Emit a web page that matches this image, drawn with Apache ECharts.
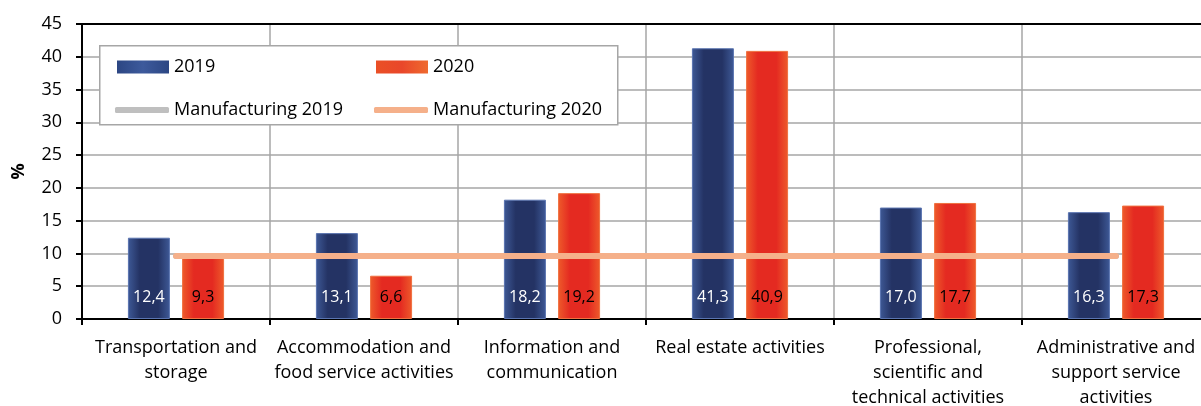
<!DOCTYPE html>
<html>
<head>
<meta charset="utf-8">
<script src="https://cdn.jsdelivr.net/npm/echarts@6/dist/echarts.min.js"></script>
<style>
  html, body { margin: 0; padding: 0; background: #fff; }
  #chart { width: 1201px; height: 406px; }
</style>
</head>
<body>
<div id="chart"></div>
<script>
// Share of sectors (%), 2019 vs 2020, with the manufacturing reference level
const categories = [
  'Transportation and\nstorage',
  'Accommodation and\nfood service activities',
  'Information and\ncommunication',
  'Real estate activities',
  'Professional,\nscientific and\ntechnical activities',
  'Administrative and\nsupport service\nactivities'
];
const values2019 = [12.4, 13.1, 18.2, 41.3, 17.0, 16.3];
const values2020 = [9.3, 6.6, 19.2, 40.9, 17.7, 17.3];
const manufacturing2019 = [9.6, 9.6, 9.6, 9.6, 9.6, 9.6];
const manufacturing2020 = [9.6, 9.6, 9.6, 9.6, 9.6, 9.6];
const yTicks = { min: 0, max: 45, interval: 5 };

const FONT = 'Open Sans';
const GREY_LINE = '#bfbfbf';
const PEACH_LINE = '#f5b08a';
const fmt = p => p.value.toFixed(1).replace('.', ',');

const blueFill = new echarts.graphic.LinearGradient(0, 0, 1, 0, [
  { offset: 0, color: '#3e5996' },
  { offset: 0.28, color: '#243364' },
  { offset: 0.72, color: '#243364' },
  { offset: 1, color: '#3e5996' }
]);
const redFill = new echarts.graphic.LinearGradient(0, 0, 1, 0, [
  { offset: 0, color: '#ee5b2b' },
  { offset: 0.28, color: '#e42a21' },
  { offset: 0.72, color: '#e42a21' },
  { offset: 1, color: '#ee5b2b' }
]);
const blueKey = new echarts.graphic.LinearGradient(0, 0, 1, 0, [
  { offset: 0, color: '#2c4683' }, { offset: 0.5, color: '#3d5a9c' }, { offset: 1, color: '#2c4683' }
]);
const redKey = new echarts.graphic.LinearGradient(0, 0, 1, 0, [
  { offset: 0, color: '#ea5026' }, { offset: 0.5, color: '#e9472a' }, { offset: 1, color: '#ef6a2f' }
]);

const legendText = { fontFamily: FONT, fontSize: 18, color: '#000' };
function legendAt(name, left, top, w, h, icon, color) {
  return {
    data: [name], left, top, itemWidth: w, itemHeight: h, icon,
    itemStyle: { color, borderWidth: 0 },
    itemGap: 0, padding: 0, textStyle: legendText, selectedMode: false, z: 5
  };
}

const axisBlack = { color: '#000', width: 2 };
const gridGrey = { color: '#a6a6a6', width: 1.5 };

const chart = echarts.init(document.getElementById('chart'), null, { renderer: 'canvas' });
chart.setOption({
  animation: false,
  textStyle: { fontFamily: FONT },
  grid: { left: 82, right: -9, top: 24, bottom: 87, outerBoundsMode: 'none', containLabel: false },
  graphic: [{
    type: 'rect', left: 99, top: 45, z: 1,
    shape: { width: 518, height: 79 },
    style: { fill: '#fff', stroke: '#a6a6a6', lineWidth: 1.5 }
  }],
  legend: [
    legendAt('2019', 117, 58, 52, 13, 'rect', blueKey),
    legendAt('2020', 376, 58, 52, 13, 'rect', redKey),
    legendAt('Manufacturing 2019', 115, 101, 54, 6, 'roundRect', GREY_LINE),
    legendAt('Manufacturing 2020', 374, 101, 54, 6, 'roundRect', PEACH_LINE)
  ],
  xAxis: [{
    type: 'category',
    data: categories,
    axisLine: { lineStyle: axisBlack },
    axisTick: { show: true, length: 6, lineStyle: axisBlack },
    axisLabel: { fontFamily: FONT, fontSize: 18, color: '#000', lineHeight: 25, margin: 16, interval: 0 },
    splitLine: { show: true, lineStyle: gridGrey }
  }, {
    // frame line along the top of the plot
    type: 'category', position: 'top', data: categories,
    axisLine: { show: true, lineStyle: axisBlack },
    axisTick: { show: false }, axisLabel: { show: false }, splitLine: { show: false }
  }],
  yAxis: {
    type: 'value',
    min: yTicks.min, max: yTicks.max, interval: yTicks.interval,
    name: '%', nameLocation: 'middle', nameRotate: 90, nameGap: 54,
    nameTextStyle: { fontFamily: FONT, fontSize: 18, fontWeight: 'bold', color: '#000' },
    axisLine: { show: true, lineStyle: axisBlack },
    axisTick: { show: true, length: 6, lineStyle: axisBlack },
    axisLabel: { fontFamily: FONT, fontSize: 18, color: '#000', margin: 20 },
    splitLine: { show: true, lineStyle: gridGrey }
  },
  series: [
    {
      name: '2019', type: 'bar', data: values2019,
      barWidth: 42, barGap: '29%',
      itemStyle: { color: blueFill, borderColor: '#5a74b0', borderWidth: 1 },
      label: { show: true, position: 'insideBottom', distance: 14, formatter: fmt,
               fontFamily: FONT, fontSize: 16, color: '#fff' },
      z: 2
    },
    {
      name: '2020', type: 'bar', data: values2020,
      barWidth: 42,
      itemStyle: { color: redFill, borderColor: '#f07040', borderWidth: 1 },
      label: { show: true, position: 'insideBottom', distance: 14, formatter: fmt,
               fontFamily: FONT, fontSize: 16, color: '#000' },
      z: 2
    },
    {
      name: 'Manufacturing 2019', type: 'line', data: manufacturing2019,
      symbol: 'none', itemStyle: { color: GREY_LINE },
      lineStyle: { color: GREY_LINE, width: 6, cap: 'round' }, z: 3
    },
    {
      name: 'Manufacturing 2020', type: 'line', data: manufacturing2020,
      symbol: 'none', itemStyle: { color: PEACH_LINE },
      lineStyle: { color: PEACH_LINE, width: 6, cap: 'round' }, z: 4
    }
  ]
});
</script>
</body>
</html>
